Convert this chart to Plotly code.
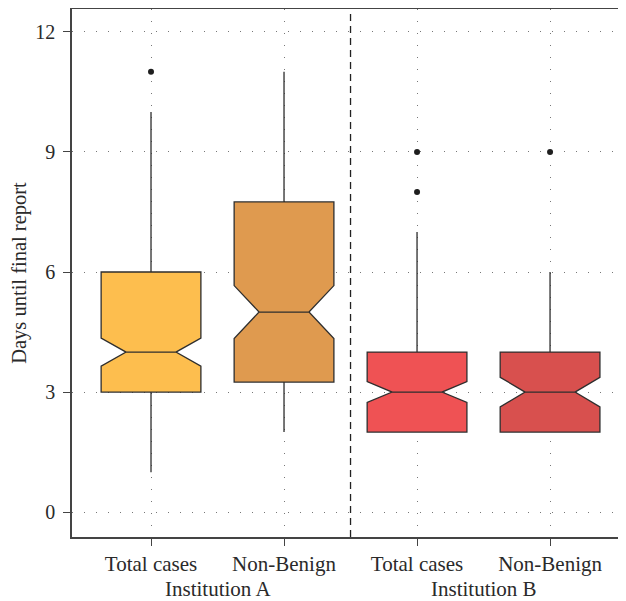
import plotly.graph_objects as go

# ---- data ----
groups = ["Institution A", "Institution A", "Institution B", "Institution B"]
categories = ["Total cases", "Non-Benign", "Total cases", "Non-Benign"]
positions = [0, 1, 2, 3]
q1 = [3.0, 3.25, 2.0, 2.0]
median = [4.0, 5.0, 3.0, 3.0]
q3 = [6.0, 7.75, 4.0, 4.0]
lowerfence = [1.0, 2.0, 2.0, 2.0]
upperfence = [10.0, 11.0, 7.0, 6.0]
notchspan = [0.35, 0.66, 0.26, 0.37]
outlier_x = [0, 2, 2, 3]
outlier_y = [11, 9, 8, 9]
colors = ["#FDBE4E", "#DF9A4F", "#EF5254", "#D8504E"]
group_labels = ["Institution A", "Institution B"]
group_centers = [0.5, 2.5]
yticks = [0, 3, 6, 9, 12]

FONT = "Liberation Serif"
TXT = "#2a2a2a"

fig = go.Figure()
for i in range(len(positions)):
    fig.add_trace(go.Box(
        x=[positions[i]],
        q1=[q1[i]], median=[median[i]], q3=[q3[i]],
        lowerfence=[lowerfence[i]], upperfence=[upperfence[i]],
        notchspan=[notchspan[i]],
        notched=True, notchwidth=0.25,
        width=0.75, whiskerwidth=0,
        fillcolor=colors[i],
        line=dict(color="#2e2e2e", width=1.3),
        boxpoints=False,
        hoverinfo="skip",
        showlegend=False,
    ))

fig.add_trace(go.Scatter(
    x=outlier_x, y=outlier_y, mode="markers",
    marker=dict(color="#1e1e1e", size=6),
    showlegend=False, hoverinfo="skip",
))

fig.add_shape(type="line", xref="x", yref="paper", x0=1.5, x1=1.5, y0=0, y1=1,
              line=dict(color="#222222", width=1.3, dash="7px,5px"), layer="above")

for lbl, c in zip(group_labels, group_centers):
    fig.add_annotation(x=c, xref="x", y=-0.098, yref="paper", text=lbl,
                       showarrow=False, yanchor="middle",
                       font=dict(family=FONT, size=21, color=TXT))

fig.update_layout(
    width=626, height=601,
    margin=dict(l=64, r=8, t=1, b=72),
    paper_bgcolor="white", plot_bgcolor="white",
    boxmode="overlay",
    font=dict(family=FONT, size=21, color=TXT),
)
fig.update_xaxes(
    range=[-0.594, 3.571], automargin=False,
    tickmode="array", tickvals=positions, ticktext=categories,
    ticks="outside", ticklen=7, tickwidth=1.3, tickcolor="#444",
    showline=True, linecolor="#444", linewidth=1.5, mirror=True,
    showgrid=True, gridcolor="#777", gridwidth=1, griddash="1px,11px",
    zeroline=False,
    tickfont=dict(family=FONT, size=21, color=TXT),
)
fig.update_yaxes(
    range=[-0.62, 12.57], automargin=False,
    tickmode="array", tickvals=yticks,
    ticks="outside", ticklen=7, tickwidth=1.3, tickcolor="#444",
    ticklabelstandoff=4,
    showline=True, linecolor="#444", linewidth=1.5,
    showgrid=True, gridcolor="#777", gridwidth=1, griddash="1px,11px",
    zeroline=False,
    tickfont=dict(family=FONT, size=20, color=TXT),
    title=dict(text="Days until final report", standoff=5,
               font=dict(family=FONT, size=20.5, color=TXT)),
)

fig.write_html("out.html")
